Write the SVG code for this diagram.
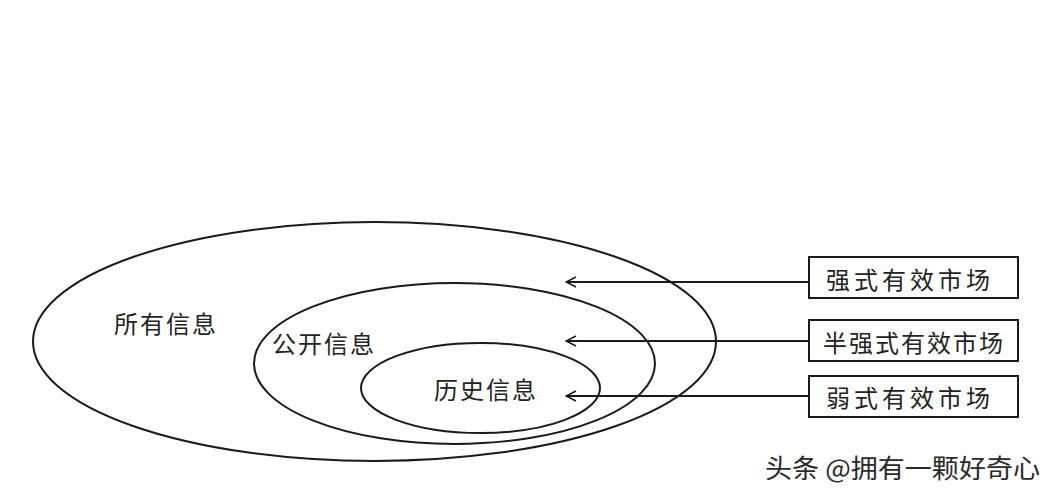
<svg xmlns="http://www.w3.org/2000/svg" width="1056" height="502" viewBox="0 0 1056 502">
<style>
.sh{fill:none;stroke:#1a1a1a;stroke-width:2}
.t{font-family:"Noto Sans CJK SC",sans-serif;font-size:24px;fill:#222;text-anchor:middle;dominant-baseline:central}
.c{stroke:#1a1a1a;stroke-width:1.8;fill:none}
</style>
<defs><marker id="a" viewBox="0 0 12 12" refX="11" refY="6" markerWidth="12" markerHeight="12" markerUnits="userSpaceOnUse" orient="auto"><path d="M1,1 L11,6 L1,11" fill="none" stroke="#1a1a1a" stroke-width="1.5"/></marker></defs>
<rect width="1056" height="502" fill="#fff"/>
<g id="all"><ellipse class="sh" cx="374.5" cy="341.5" rx="341.5" ry="119.5"/><text class="t" x="166" y="322" letter-spacing="2">所有信息</text></g>
<g id="public"><ellipse class="sh" cx="454.5" cy="363.5" rx="200.5" ry="80.5"/><text class="t" x="324" y="342" letter-spacing="2">公开信息</text></g>
<g id="history"><ellipse class="sh" cx="480.5" cy="388" rx="119.5" ry="45"/><text class="t" x="486" y="388" letter-spacing="2">历史信息</text></g>
<g id="strong"><rect class="sh" x="809" y="257" width="209" height="41"/><text class="t" x="910" y="278" letter-spacing="4">强式有效市场</text></g>
<g id="semi"><rect class="sh" x="809" y="320" width="209" height="41"/><text class="t" x="914" y="341" letter-spacing="2">半强式有效市场</text></g>
<g id="weak"><rect class="sh" x="809" y="376" width="209" height="41"/><text class="t" x="910" y="396" letter-spacing="4">弱式有效市场</text></g>
<g id="connectors">
<line class="c" x1="809" y1="282" x2="566" y2="282" marker-end="url(#a)"/>
<line class="c" x1="809" y1="341" x2="566" y2="341" marker-end="url(#a)"/>
<line class="c" x1="809" y1="396" x2="566" y2="396" marker-end="url(#a)"/>
</g>
<text x="765" y="478" font-family="Noto Sans CJK SC,sans-serif" font-size="26" fill="#2a2a2a" textLength="275" lengthAdjust="spacingAndGlyphs">头条 @拥有一颗好奇心</text>
</svg>
